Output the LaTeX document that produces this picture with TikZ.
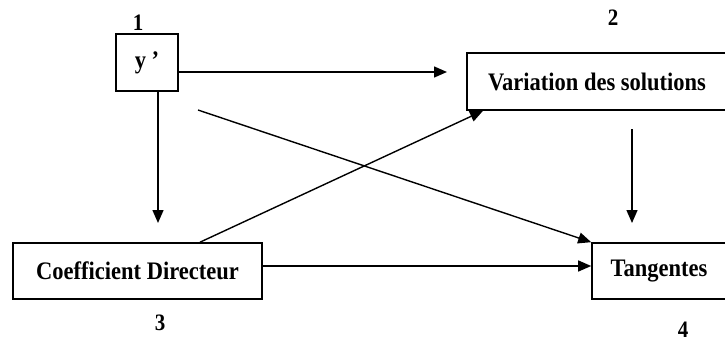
\documentclass[tikz,border=0pt]{standalone}
\usepackage{fontspec}
\setmainfont{Liberation Serif}
\usetikzlibrary{arrows.meta}
\newcommand\vst[1]{\scalebox{1}[1.12]{#1}}
\tikzset{
  boxnode/.style={draw, line width=1.6pt, rectangle, inner sep=0pt, font=\bfseries\fontsize{22.5}{27}\selectfont},
  numnode/.style={inner sep=0pt, font=\bfseries\fontsize{21}{25}\selectfont},
  conn/.style={line width=1.4pt, -{Triangle[length=13pt,width=11pt]}},
  plainconn/.style={line width=1.4pt},
}
\begin{document}
\begin{tikzpicture}[x=1pt,y=-1pt]
\useasboundingbox (0,0) rectangle (725,343);
% boxes
\node[boxnode, minimum width=62pt, minimum height=57pt] (yp) at (147,62.5) {\vst{y ’}};
\node[boxnode, minimum width=260pt, minimum height=57pt] (var) at (597,81.5) {\vst{Variation des solutions}};
\node[boxnode, minimum width=249pt, minimum height=56pt] (coef) at (137.5,271) {\vst{Coefficient Directeur}};
\node[boxnode, minimum width=134pt, minimum height=56pt] (tan) at (659,271) {\vst{Tangentes}};
% numbers
\node[numnode] (n1) at (138,23) {\vst{1}};
\node[numnode] (n2) at (613,18) {\vst{2}};
\node[numnode] (n3) at (160,323) {\vst{3}};
\node[numnode] (n4) at (683,330) {\vst{4}};
% free ends
\coordinate (e1) at (158,223);
\coordinate (e2) at (447,72);
\coordinate (s3) at (632,129);
\coordinate (e3) at (632,223);
\coordinate (s4) at (198,110);
% connectors
\draw[conn] ([xshift=11pt]yp.south) -- (e1);
\draw[conn] ([yshift=-9.5pt]yp.east) -- (e2);
\draw[conn] ([xshift=62.5pt]coef.north) -- ([xshift=-114pt]var.south);
\draw[conn] (s3) -- (e3);
\draw[conn] (s4) -- (tan.north west);
\draw[conn] ([yshift=5pt]coef.east) -- ([yshift=5pt]tan.west);
\end{tikzpicture}
\end{document}
